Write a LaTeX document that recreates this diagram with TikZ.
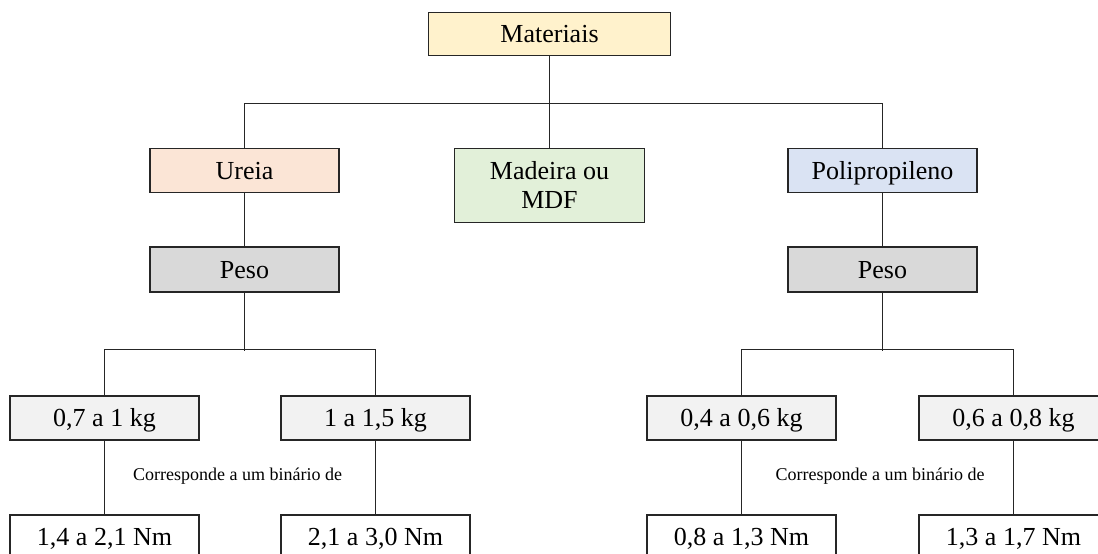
\documentclass[tikz,border=0pt]{standalone}
\usepackage{fontspec}
\setmainfont{Liberation Serif}
\usepackage{xcolor}
\usetikzlibrary{positioning}
\definecolor{matfill}{HTML}{FFF2CC}
\definecolor{urfill}{HTML}{FBE5D6}
\definecolor{madfill}{HTML}{E2F0D9}
\definecolor{polfill}{HTML}{DAE3F3}
\definecolor{pesofill}{HTML}{D9D9D9}
\definecolor{kgfill}{HTML}{F2F2F2}
\definecolor{edge}{HTML}{262626}
\begin{document}
\begin{tikzpicture}[x=1pt,y=-1pt,font=\fontsize{26}{29.5}\selectfont,box/.style={draw=edge,line width=1.2pt,fill=#1,align=center,inner sep=0pt,text height=17pt,text depth=0pt,minimum width=189pt,minimum height=44pt},link/.style={draw=edge,line width=1pt},note/.style={font=\fontsize{18}{20}\selectfont}]
\useasboundingbox (0,0) rectangle (1098,554);
\node[box=matfill,minimum width=242pt,minimum height=42.5pt] (mat) at (549.5,34) {Materiais};
\node[box=urfill] (ureia) at (244.5,170.5) {Ureia};
\node[box=madfill,minimum width=189.5pt,minimum height=74.5pt,text height=46.5pt] (madeira) at (549.5,185.5) {Madeira ou\\MDF};
\node[box=polfill] (poli) at (882.5,170.5) {Polipropileno};
\node[box=pesofill,minimum height=45pt] (pesoU) at (244.5,269.5) {Peso};
\node[box=pesofill,minimum height=45pt] (pesoP) at (882.5,269.5) {Peso};
\node[box=kgfill] (kgA) at (104.5,418) {0,7 a 1 kg};
\node[box=kgfill] (kgB) at (375.5,418) {1 a 1,5 kg};
\node[box=kgfill] (kgC) at (741.5,418) {0,4 a 0,6 kg};
\node[box=kgfill] (kgD) at (1013.5,418) {0,6 a 0,8 kg};
\node[box=white] (nmA) at (104.5,537) {1,4 a 2,1 Nm};
\node[box=white] (nmB) at (375.5,537) {2,1 a 3,0 Nm};
\node[box=white] (nmC) at (741.5,537) {0,8 a 1,3 Nm};
\node[box=white] (nmD) at (1013.5,537) {1,3 a 1,7 Nm};
\node[note] (binU) at (237.6,476) {Corresponde a um binário de};
\node[note] (binP) at (880,476) {Corresponde a um binário de};
% tree lines
\draw[link] (mat) -- (madeira);
\draw[link] (ureia.north) -- ++(0,-44.5) -| (poli.north);
\draw[link] (ureia) -- (pesoU);\draw[link] (poli) -- (pesoP);
\draw[link] (pesoU.south) -- ++(0,58.5);\draw[link] (pesoP.south) -- ++(0,58.5);
\draw[link] (kgA.north) -- ++(0,-45.5) -| (kgB.north);
\draw[link] (kgC.north) -- ++(0,-45.5) -| (kgD.north);
\draw[link] (kgA) -- (nmA);\draw[link] (kgB) -- (nmB);\draw[link] (kgC) -- (nmC);\draw[link] (kgD) -- (nmD);
\end{tikzpicture}
\end{document}
